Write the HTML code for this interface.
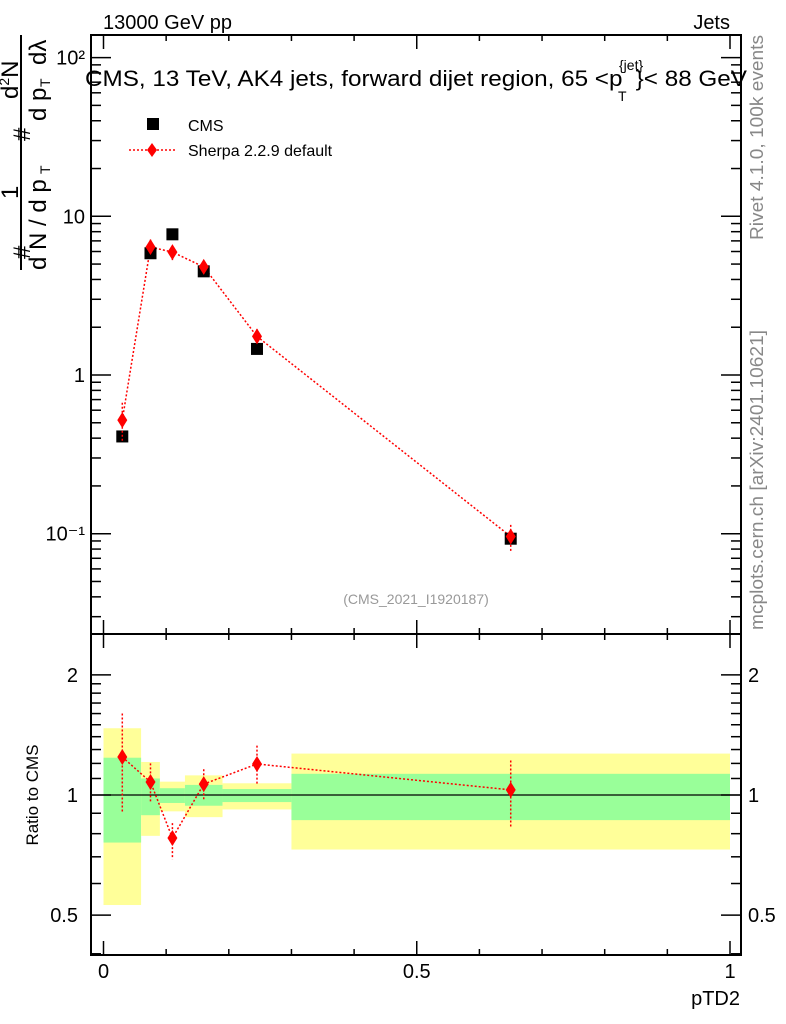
<!DOCTYPE html>
<html><head><meta charset="utf-8"><style>
html,body{margin:0;padding:0;background:#fff;}
svg{display:block;font-family:"Liberation Sans",Arial,sans-serif;}
</style></head><body>
<svg id="c" width="786" height="1024" viewBox="0 0 786 1024" xmlns="http://www.w3.org/2000/svg">
<rect x="0" y="0" width="786" height="1024" fill="#fff"/>
<g id="bands"></g>
<g id="grid"></g>
<g id="marks"></g>
<text x="103" y="29" font-size="20">13000 GeV pp</text>
<text x="730" y="29" font-size="20" text-anchor="end">Jets</text>
<g>
<text x="85" y="86" font-size="22" textLength="662" lengthAdjust="spacingAndGlyphs">CMS, 13 TeV, AK4 jets, forward dijet region, 65 &lt;p<tspan dx="12">}&lt; 88 GeV</tspan></text>
<text x="619" y="70" font-size="14">{jet}</text>
<text x="618" y="101" font-size="14">T</text>
</g>
<g>
<rect x="147" y="118" width="12" height="12" fill="#000"/>
<text x="188" y="131" font-size="16">CMS</text>
<line x1="129" y1="150" x2="176" y2="150" stroke="red" stroke-width="1.5" stroke-dasharray="2,2"/>
<path d="M152,143 L157,150 L152,157 L147,150 Z" fill="red"/>
<text x="188" y="156" font-size="16">Sherpa 2.2.9 default</text>
</g>
<text x="416" y="604" font-size="14" fill="#999" text-anchor="middle">(CMS_2021_I1920187)</text>
<g font-size="24" transform="translate(0,275) rotate(-90)">
<line x1="5" y1="21" x2="240" y2="21" stroke="#000" stroke-width="2"/>
<text x="16" y="30">#</text>
<text x="76" y="18">1</text>
<text x="176" y="18">d<tspan font-size="14" dy="-9">2</tspan><tspan dy="9">N</tspan></text>
<text x="5" y="46">d N / d p</text>
<text x="101" y="50" font-size="14">T</text>
<text x="134" y="30">#</text>
<text x="154" y="46">d p</text>
<text x="188" y="50" font-size="14">T</text>
<text x="210" y="46">d&#955;</text>
</g>
<text transform="translate(38,795) rotate(-90)" font-size="17" text-anchor="middle">Ratio to CMS</text>
<text x="740" y="1005" font-size="20" text-anchor="end">pTD2</text>
<text transform="translate(763,240) rotate(-90)" font-size="18.5" fill="#888" textLength="205" lengthAdjust="spacingAndGlyphs">Rivet 4.1.0,  100k events</text>
<text transform="translate(763,630) rotate(-90)" font-size="18.5" fill="#888" textLength="300" lengthAdjust="spacingAndGlyphs">mcplots.cern.ch [arXiv:2401.10621]</text>
</svg>
<script>
const binEdges=[0,0.06,0.09,0.13,0.19,0.3,1.0];
const xPoints=[0.03,0.075,0.11,0.16,0.245,0.65];
const cmsValues=[0.41,5.85,7.7,4.5,1.46,0.093];
const sherpaValues=[0.52,6.4,5.95,4.8,1.75,0.096];
const ratioValues=[1.245,1.078,0.78,1.065,1.196,1.03];
const ratioErrUp=[1.6,1.2,0.85,1.16,1.33,1.22];
const ratioErrDown=[0.9,0.955,0.69,0.965,1.06,0.83];
const yellowUp=[1.47,1.21,1.08,1.12,1.07,1.27];
const yellowDown=[0.53,0.79,0.91,0.88,0.92,0.73];
const greenUp=[1.24,1.10,1.04,1.06,1.035,1.13];
const greenDown=[0.76,0.89,0.955,0.94,0.96,0.865];
const mainTicks=[0.1,1,10,100];
const mainTickLabels=["10\u207B\u00B9","1","10","10\u00B2"];
const ratioTicks=[0.5,1,2];
const ratioTickLabels=["0.5","1","2"];
const xTicks=[0,0.5,1];
const xTickLabels=["0","0.5","1"];

const NS="http://www.w3.org/2000/svg";
const L=91,R=741,T=35,MB=634,RB=955;
const X=v=>103.5+v*626.5;
const Y=v=>375-158.7*Math.log10(v);
const YR=v=>795-399*Math.log10(v);
function mk(tag,attrs,parent){const e=document.createElementNS(NS,tag);for(const k in attrs)e.setAttribute(k,attrs[k]);parent.appendChild(e);return e;}
const bands=document.getElementById('bands'),grid=document.getElementById('grid'),marks=document.getElementById('marks');

for(let i=0;i<6;i++){
  const x0=X(binEdges[i]),x1=X(binEdges[i+1]);
  const y=mk('rect',{x:x0,y:YR(yellowUp[i]),width:x1-x0,height:YR(yellowDown[i])-YR(yellowUp[i]),fill:'#ffff99'},bands);
  
  
  const g=mk('rect',{x:x0,y:YR(greenUp[i]),width:x1-x0,height:YR(greenDown[i])-YR(greenUp[i]),fill:'#99ff99'},bands);
  
  
}
const f1=mk('rect',{x:L,y:T,width:R-L,height:MB-T,fill:'none',stroke:'#000','stroke-width':2},grid);


const f2=mk('rect',{x:L,y:MB,width:R-L,height:RB-MB,fill:'none',stroke:'#000','stroke-width':2},grid);


mk('line',{x1:L,y1:YR(1),x2:R,y2:YR(1),stroke:'#000','stroke-width':1.2},grid);
for(let k=0;k<=10;k++){const v=k/10,x=X(v),len=(k%5==0)?14:6;
  for(const yy of [T,MB,RB]){mk('line',{x1:x,y1:yy,x2:x,y2:yy+(yy==T?len:-len),stroke:'#000','stroke-width':1.5},grid);
    if(yy==MB) mk('line',{x1:x,y1:yy,x2:x,y2:yy+len,stroke:'#000','stroke-width':1.5},grid);}
}
xTicks.forEach((v,i)=>{const t=mk('text',{x:X(v),y:978,'font-size':20,'text-anchor':'middle'},grid);t.textContent=xTickLabels[i];
  
  });
for(let d=-2;d<=2;d++){for(let m=1;m<10;m++){const v=m*Math.pow(10,d),y=Y(v);if(y<T||y>MB)continue;const len=m==1?20:10;
  mk('line',{x1:L,y1:y,x2:L+len,y2:y,stroke:'#000','stroke-width':1.5},grid);
  mk('line',{x1:R,y1:y,x2:R-len,y2:y,stroke:'#000','stroke-width':1.5},grid);}}
mainTicks.forEach((v,i)=>{const t=mk('text',{x:85,y:Y(v)+7,'font-size':20,'text-anchor':'end'},grid);t.textContent=mainTickLabels[i];
  
  });
for(let v=0.4;v<=2.5;v+=(v<2?0.1:0.5)){const y=YR(v);if(y<MB||y>RB)continue;const major=[0.5,1,2].some(t=>Math.abs(t-v)<1e-6);const len=major?20:10;
  mk('line',{x1:L,y1:y,x2:L+len,y2:y,stroke:'#000','stroke-width':1.5},grid);
  mk('line',{x1:R,y1:y,x2:R-len,y2:y,stroke:'#000','stroke-width':1.5},grid);}
ratioTicks.forEach((v,i)=>{let t=mk('text',{x:78,y:YR(v)+7,'font-size':20,'text-anchor':'end'},grid);t.textContent=ratioTickLabels[i];
  
  
  t=mk('text',{x:748,y:YR(v)+7,'font-size':20},grid);t.textContent=ratioTickLabels[i];
  
  });

function diamond(x,y,name){const p=mk('path',{d:`M${x},${y-8}L${x+5},${y}L${x},${y+8}L${x-5},${y}Z`,fill:'red'},marks);
  
  }
const dash={stroke:'red','stroke-width':1.5,'stroke-dasharray':'2,2',fill:'none'};
mk('polyline',Object.assign({points:xPoints.map((v,i)=>X(v)+','+Y(sherpaValues[i])).join(' ')},dash),marks);
xPoints.forEach((v,i)=>{const x=X(v);
  const r=mk('rect',{x:x-6,y:Y(cmsValues[i])-6,width:12,height:12,fill:'#000'},marks);
  
  
  const up=sherpaValues[i]*ratioErrUp[i]/ratioValues[i],dn=sherpaValues[i]*ratioErrDown[i]/ratioValues[i];
  mk('line',Object.assign({x1:x,y1:Y(up),x2:x,y2:Y(dn)},dash),marks);
  diamond(x,Y(sherpaValues[i]),'sherpa-point-'+i);
});
mk('polyline',Object.assign({points:xPoints.map((v,i)=>X(v)+','+YR(ratioValues[i])).join(' ')},dash),marks);
xPoints.forEach((v,i)=>{const x=X(v);
  mk('line',Object.assign({x1:x,y1:YR(ratioErrUp[i]),x2:x,y2:YR(ratioErrDown[i])},dash),marks);
  diamond(x,YR(ratioValues[i]),'ratio-point-'+i);
});
</script>
</body></html>
